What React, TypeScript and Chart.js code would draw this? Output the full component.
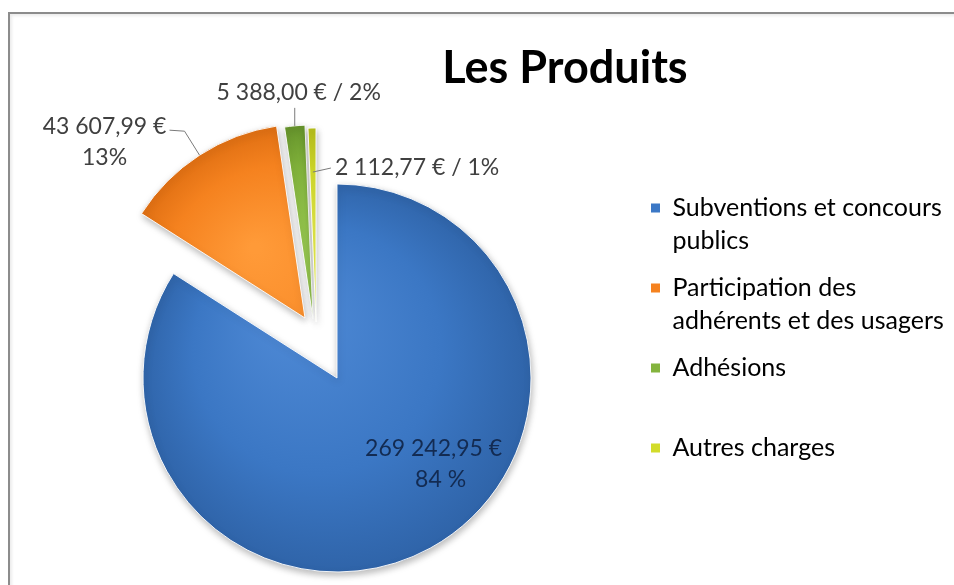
import React, { useEffect, useRef } from "react";
import { Chart, registerables } from "chart.js";

Chart.register(...registerables);

// ---------- data ----------
const TITLE = "Les Produits";
const categories = [
  "Subventions et concours publics",
  "Participation des adhérents et des usagers",
  "Adhésions",
  "Autres charges",
];
const legendLines = [
  ["Subventions et concours", "publics"],
  ["Participation des", "adhérents et des usagers"],
  ["Adhésions", ""],
  ["Autres charges", ""],
];
const values = [269242.95, 43607.99, 5388.0, 2112.77];
const dataLabels = [
  ["269 242,95 €", "84 %"],
  ["43 607,99 €", "13%"],
  ["5 388,00 € / 2%"],
  ["2 112,77 € / 1%"],
];

// ---------- style ----------
const W = 954;
const H = 585;
const FONT = "Lato, 'Open Sans', sans-serif";
const SOLID = ["#3b78c6", "#f5821f", "#84b43e", "#d2dc2a"];
const GRAD = [
  ["#4f8ad6", "#3b77c4", "#2e62a6"],
  ["#ff9a38", "#f5821f", "#db6b10"],
  ["#9ccc54", "#80b13a", "#5f8c28"],
  ["#ecf058", "#d3dc2a", "#b0b818"],
];
const RADIUS = 194;
const CENTER_X = 337;
const CENTER_Y = 378;
// explosion offsets (dx, dy) of each slice from the pie centre
const EXPLODE = [
  [0, 0],
  [-32, -60],
  [-24, -59],
  [-21, -56],
];
const LEG_FONT = 25;
const LEG_LINE = 1.32;
const LEG_PAD = 14;
const LEG_BOX = 9;
const LEG_LEFT = 637;
const PAD_TOP = 181.5;
const PAD_BOTTOM = 2 * 0 + (585 - (2 * CENTER_Y - PAD_TOP));
const LABEL_FONT = 23;

const deg = Math.PI / 180;

const explodePlugin = {
  id: "explode",
  afterDatasetsUpdate(chart: any) {
    const meta = chart.getDatasetMeta(0);
    meta.data.forEach((arc: any, i: number) => {
      arc.x += EXPLODE[i][0];
      arc.y += EXPLODE[i][1];
    });
  },
};

function drawLeader(ctx: CanvasRenderingContext2D, pts: number[][]) {
  ctx.save();
  ctx.strokeStyle = "#7a7a7a";
  ctx.lineWidth = 1;
  ctx.beginPath();
  ctx.moveTo(pts[0][0], pts[0][1]);
  for (let k = 1; k < pts.length; k++) ctx.lineTo(pts[k][0], pts[k][1]);
  ctx.stroke();
  ctx.restore();
}

const decorPlugin = {
  id: "decor",
  beforeDatasetsDraw(chart: any) {
    const ctx = chart.ctx;
    ctx.save();
    ctx.shadowColor = "rgba(0,0,0,0.28)";
    ctx.shadowBlur = 7;
    ctx.shadowOffsetX = 1;
    ctx.shadowOffsetY = 3;
  },
  afterDatasetsDraw(chart: any) {
    const ctx: CanvasRenderingContext2D = chart.ctx;
    ctx.restore();
    const meta = chart.getDatasetMeta(0);
    const arcs = meta.data;
    const pt = (arc: any, ang: number, r: number) => [
      arc.x + Math.cos(ang) * r,
      arc.y + Math.sin(ang) * r,
    ];
    const mid = (arc: any) => (arc.startAngle + arc.endAngle) / 2;

    ctx.save();
    ctx.textBaseline = "middle";
    ctx.font = `${LABEL_FONT}px ${FONT}`;

    // slice 0 : inside label
    {
      const a = arcs[0];
      const p = pt(a, mid(a) - 20.6 * deg, a.outerRadius * 0.677);
      ctx.fillStyle = "#132b52";
      ctx.textAlign = "center";
      ctx.fillText(dataLabels[0][0], p[0] - 3, p[1] - 15);
      ctx.fillText(dataLabels[0][1], p[0] + 4, p[1] + 16);
    }
    // slice 1 : leader to upper-left
    {
      const a = arcs[1];
      const s = pt(a, mid(a), a.outerRadius);
      const e1 = [s[0] - 15, s[1] - 24];
      const e2 = [e1[0] - 15, e1[1] - 1];
      drawLeader(ctx, [s, e1, e2]);
      ctx.fillStyle = "#404040";
      ctx.textAlign = "center";
      ctx.fillText(dataLabels[1][0], e2[0] - 65, e2[1] - 4);
      ctx.fillText(dataLabels[1][1], e2[0] - 65, e2[1] + 27);
    }
    // slice 2 : leader up
    {
      const a = arcs[2];
      const s = pt(a, mid(a), a.outerRadius);
      const e = [s[0], s[1] - 18];
      drawLeader(ctx, [s, e]);
      ctx.fillStyle = "#404040";
      ctx.textAlign = "center";
      ctx.fillText(dataLabels[2][0], e[0] + 4, e[1] - 15);
    }
    // slice 3 : leader right
    {
      const a = arcs[3];
      const s = pt(a, mid(a), 150);
      const e = [s[0] + 18, s[1] - 4];
      drawLeader(ctx, [s, e]);
      ctx.fillStyle = "#404040";
      ctx.textAlign = "left";
      ctx.fillText(dataLabels[3][0], e[0] + 4, e[1]);
    }
    // title
    ctx.fillStyle = "#000000";
    ctx.textAlign = "center";
    ctx.font = `bold 45px ${FONT}`;
    ctx.fillText(TITLE, 565, 68);
    ctx.restore();
  },
};

export default function App() {
  const ref = useRef<HTMLCanvasElement | null>(null);

  useEffect(() => {
    document.body.style.margin = "0";
    document.body.style.overflow = "hidden";
    const canvas = ref.current!;
    // measure legend text to place the legend
    const m = document.createElement("canvas").getContext("2d")!;
    m.font = `${LEG_FONT}px ${FONT}`;
    let maxW = 0;
    legendLines.forEach((ls) => ls.forEach((l) => (maxW = Math.max(maxW, m.measureText(l).width))));
    const legendWidth = LEG_PAD + LEG_BOX + LEG_FONT / 2 + maxW + 10;
    const padRight = Math.max(0, W - LEG_LEFT - legendWidth);
    const legLeft = W - padRight - legendWidth;
    const padLeft = 2 * CENTER_X - legLeft;

    const chart = new Chart(canvas, {
      type: "pie",
      data: {
        labels: categories,
        datasets: [
          {
            data: values,
            radius: RADIUS,
            borderColor: "rgba(255,255,255,0.9)",
            borderWidth: 1,
            backgroundColor: (c: any) => {
              const i = c.dataIndex;
              const chartRef = c.chart;
              const area = chartRef.chartArea;
              if (!area || i === undefined) return SOLID[i ?? 0];
              const cx = (area.left + area.right) / 2 + EXPLODE[i][0];
              const cy = (area.top + area.bottom) / 2 + EXPLODE[i][1];
              const g = chartRef.ctx.createRadialGradient(cx - 50, cy - 70, 5, cx, cy, RADIUS * 1.05);
              g.addColorStop(0, GRAD[i][0]);
              g.addColorStop(0.6, GRAD[i][1]);
              g.addColorStop(1, GRAD[i][2]);
              return g;
            },
          } as any,
        ],
      },
      options: {
        responsive: false,
        animation: false,
        layout: {
          padding: { top: PAD_TOP, bottom: PAD_BOTTOM, left: padLeft, right: padRight },
        },
        plugins: {
          title: { display: false },
          tooltip: { enabled: false },
          legend: {
            display: true,
            position: "right",
            align: "start",
            labels: {
              boxWidth: LEG_BOX,
              boxHeight: LEG_BOX,
              padding: LEG_PAD,
              color: "#3c3c3c",
              font: { family: FONT, size: LEG_FONT, lineHeight: LEG_LINE },
              generateLabels: () =>
                legendLines.map((t, i) => ({
                  text: t as any,
                  fillStyle: SOLID[i],
                  strokeStyle: SOLID[i],
                  lineWidth: 0,
                  hidden: false,
                  index: i,
                })),
            },
          },
        },
      },
      plugins: [explodePlugin, decorPlugin],
    });
    return () => chart.destroy();
  }, []);

  return (
    <div style={{ position: "relative", width: W, height: H, overflow: "hidden", background: "#ffffff" }}>
      <div
        style={{
          position: "absolute",
          left: 8,
          top: 12,
          width: W,
          height: H,
          borderTop: "2px solid #8c8c8c",
          borderLeft: "2px solid #8c8c8c",
          boxShadow: "inset 2px 2px 3px rgba(0,0,0,0.08)",
        }}
      />
      <canvas
        ref={ref}
        width={W}
        height={H}
        style={{ position: "absolute", left: 0, top: 0, width: W, height: H }}
      />
    </div>
  );
}
